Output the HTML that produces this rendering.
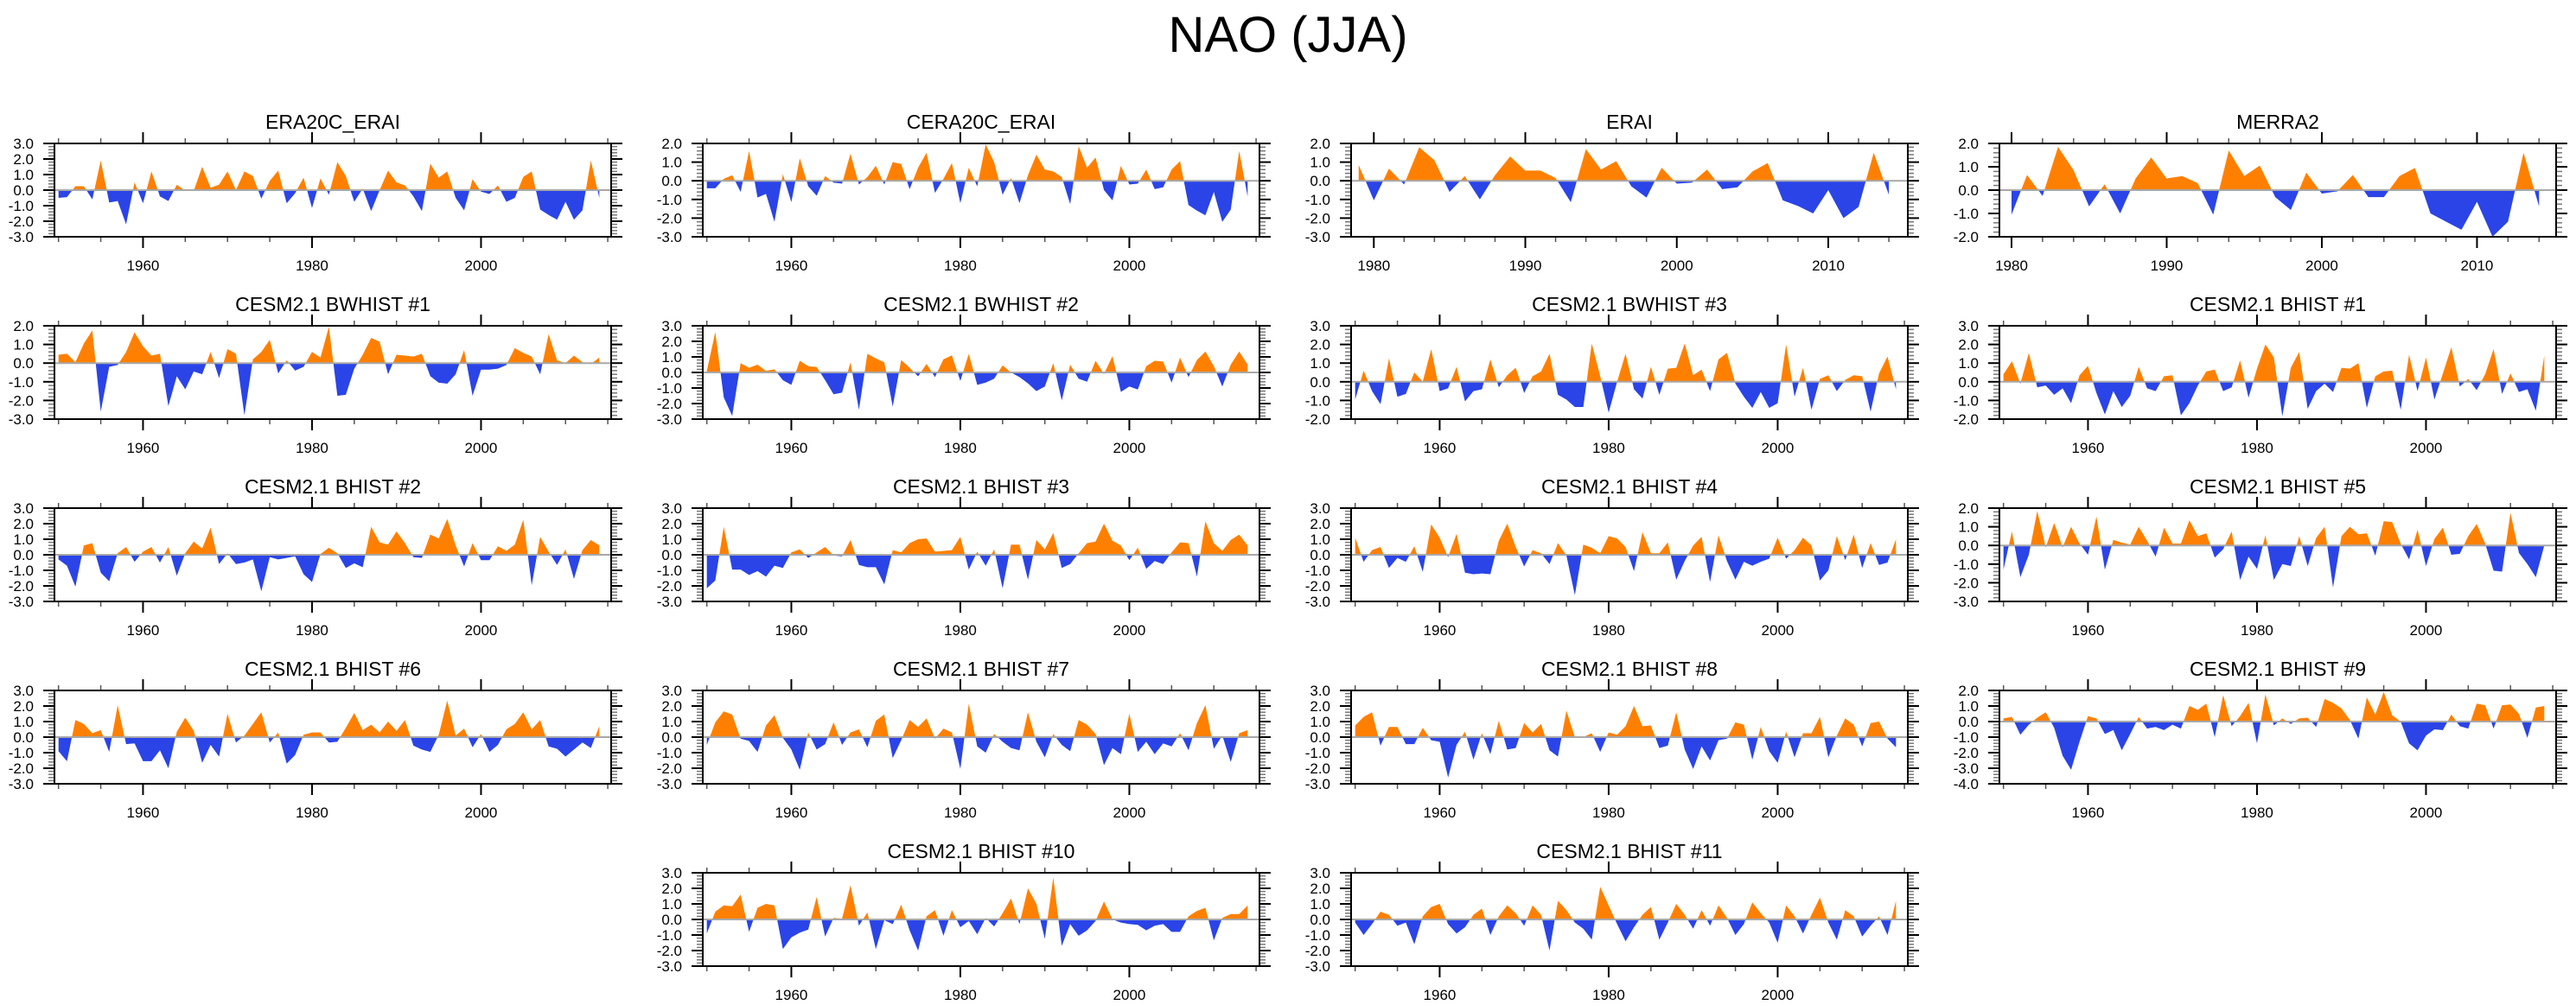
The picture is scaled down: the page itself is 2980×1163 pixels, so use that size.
<!DOCTYPE html>
<html>
<head>
<meta charset="utf-8">
<style>
html,body{margin:0;padding:0;background:#fff;}
svg{display:block;}
text{font-family:"Liberation Sans",Arial,sans-serif;fill:#000;}
</style>
</head>
<body>
<svg id="chart" xmlns="http://www.w3.org/2000/svg" width="2980" height="1163" viewBox="0 0 2980 1163">
<text x="1490" y="60" font-size="58" text-anchor="middle">NAO (JJA)</text>
</svg>
<script>
const titles = ["ERA20C_ERAI","CERA20C_ERAI","ERAI","MERRA2",
"CESM2.1 BWHIST #1","CESM2.1 BWHIST #2","CESM2.1 BWHIST #3","CESM2.1 BHIST #1",
"CESM2.1 BHIST #2","CESM2.1 BHIST #3","CESM2.1 BHIST #4","CESM2.1 BHIST #5",
"CESM2.1 BHIST #6","CESM2.1 BHIST #7","CESM2.1 BHIST #8","CESM2.1 BHIST #9",
"CESM2.1 BHIST #10","CESM2.1 BHIST #11"];
const startYears = [1950,1950,1979,1980,1950,1950,1950,1950,1950,1950,1950,1950,1950,1950,1950,1950,1950,1950];
const yMins = [-3,-3,-3,-2,-3,-3,-2,-2,-3,-3,-3,-3,-3,-3,-3,-4,-3,-3];
const yMaxs = [3,2,2,2,2,3,3,3,3,3,3,2,3,3,3,2,3,3];
const xMins = [1949.52,1949.52,1978.5,1979.22];
const xMaxs = [2015.4,2015.4,2015.25,2015.1];

const era20c = [-0.5,-0.45,0.25,0.25,-0.6,1.9,-0.8,-0.7,-2.2,0.5,-0.85,1.2,-0.4,-0.7,0.35,-0.05,-0.05,1.5,0.15,0.35,1.2,0.0,1.2,0.9,-0.55,0.6,1.25,-0.85,-0.2,0.8,-1.15,0.75,-0.3,1.8,0.9,-0.75,0.1,-1.35,0.0,1.25,0.5,0.3,-0.4,-1.35,1.7,0.8,1.2,-0.5,-1.3,0.7,-0.1,-0.25,0.3,-0.75,-0.5,0.85,1.2,-1.25,-1.6,-1.9,-0.75,-1.9,-1.3,1.9,-0.5];
const cera20c = [-0.4,-0.4,0.1,0.3,-0.6,1.6,-0.9,-0.7,-2.2,0.35,-1.15,1.2,-0.3,-0.8,0.25,-0.1,-0.15,1.45,-0.2,0.2,0.8,-0.2,1.0,0.9,-0.45,0.7,1.5,-0.65,0.1,0.95,-1.2,0.7,-0.3,1.95,1.0,-0.75,0.15,-1.2,0.3,1.4,0.6,0.5,0.2,-1.25,1.85,0.7,1.25,-0.5,-1.05,0.8,-0.2,-0.15,0.6,-0.45,-0.35,0.6,1.05,-1.3,-1.6,-1.85,-0.6,-2.2,-1.55,1.6,-0.85];
const erai = [0.85,-1.05,0.65,-0.2,1.8,1.1,-0.6,0.25,-1.0,0.3,1.3,0.55,0.55,0.15,-1.15,1.7,0.6,1.05,-0.3,-0.9,0.7,-0.15,-0.1,0.6,-0.45,-0.35,0.5,0.95,-1.05,-1.35,-1.75,-0.5,-2.0,-1.4,1.5,-0.75];
const merra2 = [-1.05,0.65,-0.25,1.85,0.85,-0.7,0.25,-1.0,0.5,1.4,0.5,0.6,0.3,-1.05,1.7,0.6,1.05,-0.3,-0.85,0.75,-0.15,-0.05,0.65,-0.3,-0.3,0.6,0.95,-1.0,-1.35,-1.7,-0.5,-2.0,-1.35,1.6,-0.7];
const bwhist1 = [0.45,0.5,0.05,1.05,1.75,-2.6,-0.2,-0.1,0.6,1.65,0.9,0.4,0.5,-2.3,-0.7,-1.4,-0.45,-0.6,0.6,-0.8,0.75,0.5,-2.8,0.2,0.6,1.25,-0.55,0.15,-0.4,-0.2,0.6,0.3,1.95,-1.75,-1.7,-0.3,0.45,1.35,1.15,-0.6,0.45,0.4,0.35,0.5,-0.7,-1.05,-1.1,-0.6,0.7,-1.75,-0.35,-0.35,-0.3,-0.1,0.8,0.55,0.35,-0.6,1.55,0.15,0.0,0.4,0.05,-0.05,0.3];
const bwhist2 = [0.1,2.6,-1.6,-2.8,0.6,0.3,0.5,0.1,0.2,-0.5,-0.8,0.75,0.4,0.35,-0.5,-1.4,-1.3,0.65,-2.4,1.2,0.9,0.65,-2.2,0.8,0.3,-0.25,0.55,-0.3,0.85,1.1,-0.55,1.2,-0.8,-0.65,-0.4,0.45,0.0,-0.3,-0.7,-1.2,-0.9,0.6,-1.8,0.5,-0.4,-0.6,0.75,-0.1,1.05,-1.25,-0.9,-1.1,0.4,0.75,0.7,-0.65,0.95,-0.3,0.8,1.35,0.4,-0.9,0.5,1.35,0.5];
const bwhist3 = [-0.95,0.6,-0.5,-1.2,1.25,-0.8,-0.65,0.5,0.0,1.75,-0.5,-0.35,0.8,-1.05,-0.5,-0.4,1.2,-0.3,0.35,0.75,-0.6,0.3,0.55,1.5,-0.7,-0.95,-1.35,-1.35,2.05,0.3,-1.65,0.0,1.5,-0.4,-0.9,0.8,-0.7,0.7,0.75,2.05,0.35,0.65,-0.5,1.2,1.55,-0.1,-0.8,-1.4,-0.55,-1.4,-1.15,2.0,-0.8,0.75,-1.5,0.15,0.35,-0.5,0.1,0.35,0.3,-1.6,0.45,1.35,-0.4];
const bhist1 = [0.4,1.1,-0.1,1.55,-0.3,-0.2,-0.7,-0.35,-1.15,0.35,0.85,-0.6,-1.75,-0.5,-1.35,-0.75,0.8,-0.35,-0.5,0.3,0.35,-1.8,-1.15,-0.2,0.55,0.65,-0.5,-0.3,1.15,-0.85,0.7,2.0,1.3,-1.85,0.75,1.6,-1.45,-0.5,-0.1,-0.55,0.75,0.7,1.0,-1.4,0.3,0.55,0.6,-1.5,1.45,-0.5,1.3,-0.95,0.45,1.85,-0.25,0.15,-0.45,0.4,1.75,-0.65,0.45,-0.55,-0.4,-1.55,1.4];
const bhist2 = [-0.3,-0.7,-2.05,0.6,0.75,-1.15,-1.7,0.1,0.5,-0.45,0.2,0.5,-0.5,0.5,-1.35,0.1,0.85,0.4,1.75,-0.6,0.1,-0.6,-0.5,-0.3,-2.35,-0.15,-0.3,-0.2,-0.1,-1.25,-1.75,0.05,0.45,0.1,-0.85,-0.55,-0.8,1.8,0.8,0.65,1.5,0.75,-0.15,-0.2,1.3,1.05,2.3,0.6,-0.75,0.75,-0.35,-0.35,0.55,0.25,0.65,2.25,-1.95,1.15,0.2,-0.65,0.35,-1.55,0.3,0.95,0.6];
const bhist3 = [-2.15,-1.65,1.8,-0.95,-0.95,-1.3,-1.05,-1.4,-0.7,-0.85,0.15,0.35,-0.2,0.15,0.5,-0.05,-0.1,0.95,-0.65,-0.8,-0.8,-1.9,0.3,0.15,0.75,1.0,1.05,0.2,0.25,0.3,1.15,-0.95,0.2,-0.7,0.35,-2.15,0.65,0.65,-1.6,0.95,0.35,1.4,-0.85,-0.6,0.1,0.75,0.85,2.0,0.9,0.6,-0.35,0.45,-0.9,-0.4,-0.6,0.15,0.8,0.75,-1.4,2.15,0.75,0.25,0.95,1.3,0.6];
const bhist4 = [1.1,-0.45,0.3,0.5,-0.85,-0.2,-0.45,0.55,-1.1,1.95,1.1,-0.15,1.35,-1.15,-1.25,-1.2,-1.25,0.9,2.0,0.5,-0.75,0.3,0.1,-0.6,0.75,-0.05,-2.6,0.65,0.45,0.1,1.2,1.05,0.5,-1.05,1.45,0.1,0.1,0.8,-1.6,-0.4,0.6,1.15,-1.75,1.25,-0.4,-1.6,-0.45,-0.7,-0.45,-0.25,1.1,-0.25,0.3,1.1,0.6,-1.65,-1.0,1.2,-0.35,1.3,-0.85,0.75,-0.65,-0.5,1.0];
const bhist5 = [-1.3,0.75,-1.7,-0.5,1.85,-0.1,1.2,-0.1,1.0,0.1,-0.5,1.55,-1.3,0.3,0.15,0.05,1.0,0.25,-0.6,0.95,0.1,0.1,1.35,0.5,0.65,-0.65,-0.2,0.75,-1.85,-0.6,-1.25,0.55,-1.85,-1.0,-1.1,0.5,-1.1,0.4,1.0,-2.25,0.5,1.0,0.6,0.65,-0.55,1.3,1.25,0.1,-0.75,0.85,-1.1,0.35,0.95,-0.5,-0.45,0.5,1.15,0.1,-1.35,-1.4,1.75,-0.4,-1.0,-1.7,0.0];
const bhist6 = [-0.9,-1.55,1.1,0.85,0.25,0.45,-0.95,2.05,-0.45,-0.4,-1.55,-1.55,-0.85,-2.0,0.35,1.25,0.4,-1.65,-0.5,-1.25,1.5,-0.35,0.1,0.85,1.6,-0.35,0.3,-1.7,-1.15,0.15,0.3,0.3,-0.35,-0.3,0.6,1.55,0.45,0.8,0.3,1.0,0.4,1.1,-0.55,-0.8,-0.95,0.15,2.35,0.1,0.55,-0.65,0.2,-0.95,-0.5,0.5,0.85,1.6,0.5,1.1,-0.6,-0.75,-1.25,-0.8,-0.35,-0.7,0.7];
const bhist7 = [-0.5,0.95,1.65,1.45,-0.1,-0.25,-0.95,0.75,1.4,-0.05,-0.8,-2.1,0.3,-0.8,-0.45,0.95,-0.5,0.3,0.5,-0.65,1.05,1.45,-1.35,-0.2,1.1,0.65,1.2,-0.1,0.55,0.3,-2.05,2.15,-0.6,-1.0,0.2,-0.3,-0.7,-0.85,1.6,-0.3,-1.3,0.2,-0.5,-0.9,1.1,0.8,0.2,-1.8,-0.7,-1.1,1.5,-0.95,-0.3,-1.1,-0.4,-0.6,0.25,-0.85,0.9,2.05,-0.75,0.1,-1.6,0.25,0.45];
const bhist8 = [0.75,1.3,1.6,-0.55,0.65,0.65,-0.45,-0.45,0.6,-0.2,-0.3,-2.6,-0.5,0.35,-1.45,0.25,-1.1,1.05,-0.8,-0.7,0.9,0.3,0.85,-0.85,-1.25,1.7,0.0,0.0,0.25,-0.95,0.3,0.15,0.7,2.0,0.7,0.75,-0.7,-0.55,1.6,-0.8,-2.05,-0.6,-1.5,-0.2,-0.1,0.95,0.8,-1.45,0.65,-0.9,-1.65,0.35,-1.3,0.25,0.25,1.3,-1.3,0.1,1.2,0.8,-0.6,0.9,1.0,-0.1,-0.65];
const bhist9 = [0.2,0.3,-0.85,-0.2,0.25,0.6,-0.4,-2.2,-3.1,-1.3,0.35,0.2,-0.8,-0.55,-1.85,-0.8,0.3,-0.45,-0.35,-0.55,-0.2,-0.45,1.0,0.75,1.15,-1.0,1.7,-0.3,0.35,1.2,-1.4,1.75,-0.25,0.2,-0.15,0.2,0.25,-0.35,1.45,1.2,0.85,0.1,-1.1,1.55,0.45,1.9,0.4,0.0,-1.4,-1.85,-0.9,-0.5,-0.55,0.45,-0.3,-0.45,1.15,1.05,-0.45,1.05,1.1,0.5,-1.05,0.9,1.0];
const bhist10 = [-0.9,0.5,0.9,0.85,1.6,-0.8,0.75,1.0,0.9,-1.9,-1.15,-0.85,-0.65,1.45,-1.1,0.1,0.05,2.2,-0.4,0.45,-1.9,-0.05,-0.3,0.95,-0.7,-2.0,0.2,0.6,-1.05,0.6,-0.5,-0.1,-0.95,0.1,-0.45,0.4,1.35,-0.3,2.0,1.0,-1.25,2.7,-1.7,-0.3,-1.05,-0.7,-0.1,1.15,0.0,-0.2,-0.3,-0.35,-0.7,-0.4,-0.3,-0.8,-0.8,0.2,0.55,0.75,-1.35,0.1,0.35,0.35,0.9];
const bhist11 = [-0.2,-1.0,-0.3,0.5,0.3,-0.4,-0.2,-1.6,0.2,0.8,1.0,-0.3,-0.9,-0.5,0.3,0.7,-1.0,0.2,0.9,0.4,-0.4,0.9,0.3,-2.0,1.2,0.6,-0.2,-0.6,-1.3,2.1,0.9,-0.3,-1.4,-0.5,0.3,0.8,-1.3,-0.2,1.0,0.3,-0.6,0.6,-0.4,0.9,0.1,-1.0,-0.3,1.1,0.4,-0.2,-1.5,0.9,0.2,-0.9,0.3,1.4,-0.2,-1.3,0.6,0.2,-1.1,-0.4,0.2,-1.0,1.2];

const series = [era20c,cera20c,erai,merra2,bwhist1,bwhist2,bwhist3,bhist1,bhist2,bhist3,bhist4,bhist5,bhist6,bhist7,bhist8,bhist9,bhist10,bhist11];
const slugs = ["era20c-erai","cera20c-erai","erai","merra2","bwhist-1","bwhist-2","bwhist-3","bhist-1","bhist-2","bhist-3","bhist-4","bhist-5","bhist-6","bhist-7","bhist-8","bhist-9","bhist-10","bhist-11"];

const NS = "http://www.w3.org/2000/svg";
const svg = document.getElementById("chart");
const colLefts = [63,813,1563,2313];
const PW = 644, PH = 108, TOP0 = 166, ROWH = 211;
const ORANGE = "#FF8000", BLUE = "#2A44E8";

function mk(tag, attrs, parent){
  const e = document.createElementNS(NS, tag);
  for (const k in attrs) e.setAttribute(k, attrs[k]);
  (parent||svg).appendChild(e);
  return e;
}
function line(g, x1,y1,x2,y2, w, c){
  return mk("line",{x1:x1,y1:y1,x2:x2,y2:y2,stroke:c,"stroke-width":w},g);
}

for (let i = 0; i < 18; i++) {
  let row, col;
  if (i < 16) { row = Math.floor(i/4); col = i%4; } else { row = 4; col = i-15; }
  const L = colLefts[col], T = TOP0 + ROWH*row, R = L+PW, B = T+PH;
  const isShort = (i === 2 || i === 3);
  const xmin = i < 4 ? xMins[i] : 1949.52;
  const xmax = i < 4 ? xMaxs[i] : 2015.4;
  const ymin = yMins[i], ymax = yMaxs[i];
  const xs = y => L + (y - xmin) / (xmax - xmin) * PW;
  const ys = v => B - (v - ymin) / (ymax - ymin) * PH;
  const data = series[i];
  const y0 = ys(0);

  const g = mk("g",{});
  
  

  const t = mk("text",{x:(L+R)/2, y:T-17, "font-size":23, "text-anchor":"middle"}, g);
  t.textContent = titles[i];
  
  

  // clip paths
  const defs = mk("defs",{}, g);
  const cpA = mk("clipPath",{id:"ca"+i}, defs);
  mk("rect",{x:L, y:T, width:PW, height:y0-T}, cpA);
  const cpB = mk("clipPath",{id:"cb"+i}, defs);
  mk("rect",{x:L, y:y0, width:PW, height:B-y0}, cpB);

  let d = "M" + xs(startYears[i]).toFixed(2) + "," + y0.toFixed(2);
  for (let k = 0; k < data.length; k++) {
    d += " L" + xs(startYears[i]+k).toFixed(2) + "," + ys(data[k]).toFixed(2);
  }
  d += " L" + xs(startYears[i]+data.length-1).toFixed(2) + "," + y0.toFixed(2) + " Z";
  const pa = mk("path",{d:d, fill:ORANGE, "clip-path":"url(#ca"+i+")"}, g);
  
  
  const pb = mk("path",{d:d, fill:BLUE, "clip-path":"url(#cb"+i+")"}, g);
  
  

  const zl = line(g, L, y0, R, y0, 2, "#a8a8a8");
  
  

  // y ticks
  for (let v = ymin; v <= ymax + 1e-6; v += 0.2) {
    const vv = Math.round(v*10)/10;
    const yy = ys(vv);
    const major = Math.abs(vv - Math.round(vv)) < 1e-6;
    const len = major ? 13 : 7;
    const col2 = major ? "#000" : "#777";
    const w = major ? 2 : 1.5;
    line(g, L-len, yy, L, yy, w, col2);
    line(g, R, yy, R+len, yy, w, col2);
    if (major) {
      const lb = mk("text",{x:L-24, y:yy+6, "font-size":17, "text-anchor":"end"}, g);
      lb.textContent = vv.toFixed(1);
      
      
    }
  }
  // x ticks
  const minorStep = isShort ? 2 : 5, majorStep = isShort ? 10 : 20;
  const first = Math.ceil(xmin / minorStep) * minorStep;
  for (let yr = first; yr <= xmax; yr += minorStep) {
    const xx = xs(yr);
    const major = (yr % majorStep === 0);
    const len = major ? 13 : 6;
    line(g, xx, T-len, xx, T, major ? 2 : 1.5, major ? "#000" : "#555");
    line(g, xx, B, xx, B+len, major ? 2 : 1.5, major ? "#000" : "#555");
    if (major) {
      const lb = mk("text",{x:xx, y:B+39, "font-size":17, "text-anchor":"middle"}, g);
      lb.textContent = String(yr);
      
      
    }
  }
  const box = mk("rect",{x:L, y:T, width:PW, height:PH, fill:"none", stroke:"#000", "stroke-width":2}, g);
  
  
}
</script>
</body>
</html>
